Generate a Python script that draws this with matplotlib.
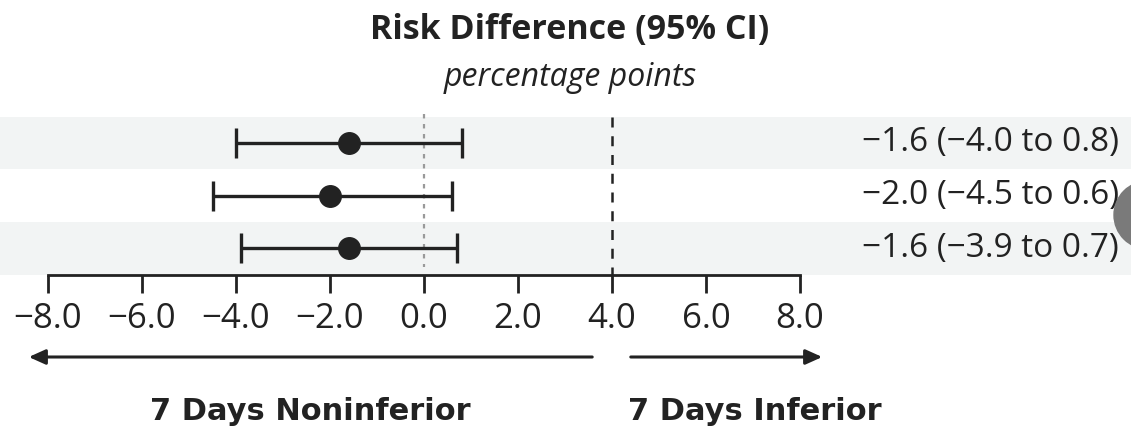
import matplotlib
matplotlib.use('Agg')
import matplotlib.pyplot as plt
from matplotlib.patches import Circle

# data
rows = [0, 1, 2]
est = [-1.6, -2.0, -1.6]
lo = [-4.0, -4.5, -3.9]
hi = [0.8, 0.6, 0.7]
labels = ['\u22121.6 (\u22124.0 to 0.8)', '\u22122.0 (\u22124.5 to 0.6)', '\u22121.6 (\u22123.9 to 0.7)']
ticks = [-8, -6, -4, -2, 0, 2, 4, 6, 8]
ticklabels = ['\u22128.0', '\u22126.0', '\u22124.0', '\u22122.0', '0.0', '2.0', '4.0', '6.0', '8.0']
margin = 4.0

plt.rcParams['font.family'] = ['Open Sans', 'DejaVu Sans']

W, H = 1131, 437
fig = plt.figure(figsize=(W / 100, H / 100), dpi=100)
ax = fig.add_axes([0, (H - 274.5) / H, 1, 274.5 / H])

px = 47.0  # pixels per unit
x0 = -8 - 48 / px
ax.set_xlim(x0, x0 + W / px)
ax.set_ylim(2.5, -2.714)

# shaded bands
for r in rows:
    if r % 2 == 0:
        ax.axhspan(r - 0.5, r + 0.5, color='#f2f4f4', zorder=0, lw=0)

ax.plot([0, 0], [-0.55, 2.35], color='#9a9a9a', lw=1.6, ls=(0, (2, 2.5)), zorder=1)
ax.plot([margin, margin], [-0.5, 2.5], color='#222222', lw=1.8, ls=(0, (4, 3.5)), zorder=1)

xerr = [[e - l for e, l in zip(est, lo)], [h - e for e, h in zip(est, hi)]]
ax.errorbar(est, rows, xerr=xerr, fmt='o', color='#222222', ms=15.5, capsize=11,
            capthick=2.4, elinewidth=2.4, zorder=3)

for r, t in zip(rows, labels):
    ax.text(1119 / px + x0, r, t, ha='right', va='center', fontsize=24, color='#222222')

for s in ['top', 'left', 'right']:
    ax.spines[s].set_visible(False)
ax.spines['bottom'].set_bounds(-8, 8)
ax.spines['bottom'].set_linewidth(2)
ax.spines['bottom'].set_color('#222222')
ax.set_yticks([])
ax.set_xticks(ticks)
ax.set_xticklabels(ticklabels, fontsize=25, color='#222222')
ax.tick_params(axis='x', direction='out', length=13, width=2, color='#222222', pad=7)

fig.text(570 / W, 1 - 30 / H, 'Risk Difference (95% CI)', ha='center', va='center',
         fontsize=24.5, fontweight='bold', color='#222222')
fig.text(570 / W, 1 - 78 / H, 'percentage points', ha='center', va='center',
         fontsize=23, style='italic', color='#222222')

arrow = dict(arrowstyle='-|>,head_length=1.0,head_width=0.45', lw=2.2, color='#222222')
ax.annotate('', xy=(26 / W, 1 - 357 / H), xytext=(595 / W, 1 - 357 / H),
            xycoords='figure fraction', arrowprops=arrow, annotation_clip=False)
ax.annotate('', xy=(825 / W, 1 - 357 / H), xytext=(628 / W, 1 - 357 / H),
            xycoords='figure fraction', arrowprops=arrow, annotation_clip=False)
fig.text(310 / W, 1 - 412 / H, '7 Days Noninferior', ha='center', va='center',
         fontsize=22, fontweight='bold', family=['DejaVu Sans'], color='#222222')
fig.text(755 / W, 1 - 412 / H, '7 Days Inferior', ha='center', va='center',
         fontsize=22, fontweight='bold', family=['DejaVu Sans'], color='#222222')

# grey dot at the right edge of the screenshot
fig.patches.append(Circle((11.48, (H - 215) / 100), 0.34, transform=fig.dpi_scale_trans,
                          color='#7a7a7a', zorder=5))

fig.savefig('out.png', dpi=100)
